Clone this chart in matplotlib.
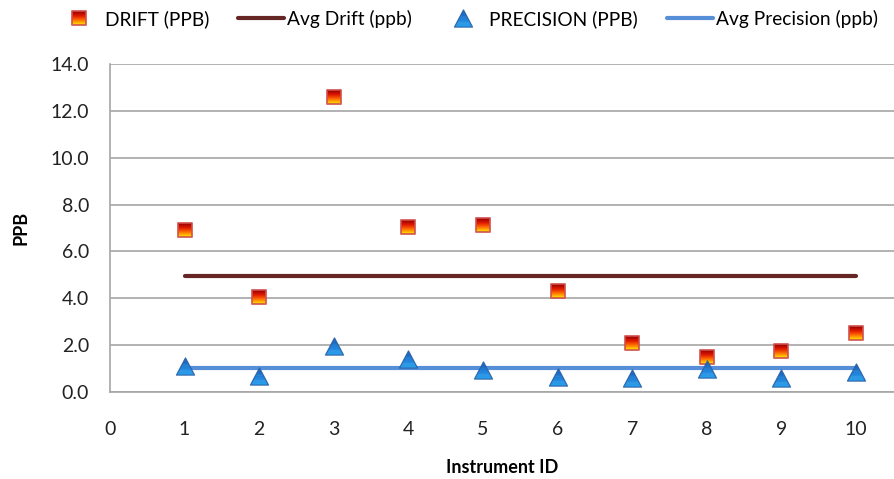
import matplotlib
matplotlib.use("Agg")
import matplotlib.pyplot as plt
from matplotlib.colors import LinearSegmentedColormap
from matplotlib.legend_handler import HandlerTuple
from matplotlib.path import Path

instrument_ids = [1, 2, 3, 4, 5, 6, 7, 8, 9, 10]
drift_ppb = [6.92, 4.04, 12.58, 7.05, 7.11, 4.30, 2.09, 1.49, 1.76, 2.51]
precision_ppb = [1.10, 0.68, 1.97, 1.42, 0.94, 0.62, 0.60, 0.99, 0.59, 0.85]
avg_drift_ppb = 4.97
avg_precision_ppb = 1.0
y_ticks = [0, 2, 4, 6, 8, 10, 12, 14]
x_ticks = [0, 1, 2, 3, 4, 5, 6, 7, 8, 9, 10]

plt.rcParams["font.family"] = ["Lato", "DejaVu Sans"]

fire = LinearSegmentedColormap.from_list(
    "fire", ["#9a0000", "#e01a00", "#ff7000", "#ffe400"]
)
ice = LinearSegmentedColormap.from_list(
    "ice", ["#1c5cb4", "#1f7ed6", "#2aa2ee"]
)
N_STRIPES = 14
TRI_H = 0.95

MOVE, LINE, CLOSE = Path.MOVETO, Path.LINETO, Path.CLOSEPOLY
# two lone anchor points keep every custom marker scaled the same way
ANCHORS = [(-1, -1), (1, 1)]


def anchored(poly):
    verts = ANCHORS + poly + [poly[0]]
    codes = [MOVE, MOVE, MOVE] + [LINE] * (len(poly) - 1) + [CLOSE]
    return Path(verts, codes)


def square_stripe(y0, y1):
    return anchored([(-1, y0), (1, y0), (1, y1), (-1, y1)])


def tri_halfwidth(y):
    return (TRI_H - y) / (2 * TRI_H)


def tri_stripe(y0, y1):
    w0, w1 = tri_halfwidth(y0), tri_halfwidth(y1)
    return anchored([(-w0, y0), (w0, y0), (w1, y1), (-w1, y1)])


SQUARE = anchored([(-1, -1), (1, -1), (1, 1), (-1, 1)])
TRIANGLE = anchored([(0, TRI_H), (-1, -TRI_H), (1, -TRI_H)])


def gradient_marker(ax, x, y, size, stripe_fn, top, outline, cmap,
                    edge_color, edge_width, edge_alpha, zorder):
    handles = []
    step = 2 * top / N_STRIPES
    for i in range(N_STRIPES):
        y1 = top - i * step
        y0 = max(-top, y1 - step * 1.4)
        (h,) = ax.plot(
            x, y, linestyle="none", marker=stripe_fn(y0, y1),
            markersize=size, markeredgewidth=0,
            color=cmap(i / (N_STRIPES - 1)), zorder=zorder,
        )
        handles.append(h)
    (edge,) = ax.plot(
        x, y, linestyle="none", marker=outline, markersize=size,
        markerfacecolor="none", markeredgecolor=edge_color,
        markeredgewidth=edge_width, alpha=edge_alpha, zorder=zorder + 0.5,
    )
    handles.append(edge)
    return tuple(handles)


fig = plt.figure(figsize=(8.94, 4.79), dpi=100)
ax = fig.add_axes([0.123, 0.182, 0.877, 0.684])

drift_handle = gradient_marker(
    ax, instrument_ids, drift_ppb, 10.3, square_stripe, 1, SQUARE, fire,
    "#d0504c", 1.4, 0.85, 4,
)
(avg_drift_line,) = ax.plot(
    [instrument_ids[0], instrument_ids[-1]], [avg_drift_ppb, avg_drift_ppb],
    color="#662626", linewidth=3.0, solid_capstyle="round", zorder=3,
)
precision_handle = gradient_marker(
    ax, instrument_ids, precision_ppb, 13, tri_stripe, TRI_H, TRIANGLE, ice,
    "#2a62a8", 0.9, 0.9, 6,
)
(avg_precision_line,) = ax.plot(
    [instrument_ids[0], instrument_ids[-1]],
    [avg_precision_ppb, avg_precision_ppb],
    color="#568fd8", linewidth=3.0, solid_capstyle="round", zorder=3,
)

ax.set_xlim(0, 10.51)
ax.set_ylim(0, 14)
ax.set_yticks(y_ticks)
ax.set_yticklabels([f"{v:.1f}" for v in y_ticks])
ax.set_xticks(x_ticks)
ax.tick_params(axis="both", length=0, labelsize=14, colors="#222222")
ax.tick_params(axis="y", pad=15)
ax.tick_params(axis="x", pad=21)
ax.grid(axis="y", color="#a6a6a6", linewidth=1.2)
ax.set_axisbelow(True)
for side in ["top", "right"]:
    ax.spines[side].set_visible(False)
for side in ["left", "bottom"]:
    ax.spines[side].set_color("#a6a6a6")
    ax.spines[side].set_linewidth(1.2)

ax.set_xlabel("Instrument ID", fontsize=13, fontweight="bold", labelpad=15)
ax.set_ylabel("PPB", fontsize=13, fontweight="bold", labelpad=15)

ax.legend(
    [drift_handle, avg_drift_line, precision_handle, avg_precision_line],
    ["DRIFT (PPB)", "Avg Drift (ppb)", "PRECISION (PPB)", "Avg Precision (ppb)"],
    handler_map={tuple: HandlerTuple(ndivide=1, pad=0)},
    ncol=4, frameon=False, fontsize=13.8, loc="center",
    bbox_to_anchor=(0.522, 0.96), bbox_transform=fig.transFigure,
    handlelength=2.4, handletextpad=0.15, columnspacing=1.5,
)

fig.savefig("out.png", dpi=100)
